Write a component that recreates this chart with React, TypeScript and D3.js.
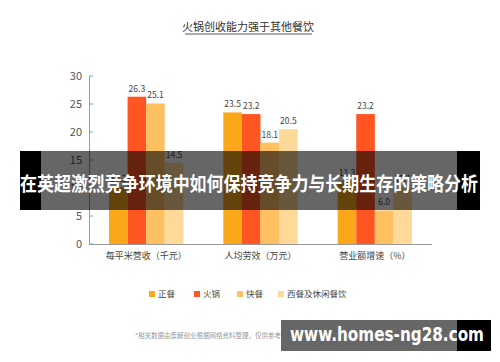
import React from "react";
import * as d3 from "d3";

const categories = ["每平米营收（千元）", "人均劳效（万元）", "营业额增速（%）"];
const seriesNames = ["正餐", "火锅", "快餐", "西餐及休闲餐饮"];
const zhengcan = [10.2, 23.5, 11.3];
const huoguo = [26.3, 23.2, 23.2];
const kuaican = [25.1, 18.1, 6.0];
const xican = [14.5, 20.5, 10.1];
const yTicks = [0, 5, 10, 15, 20, 25, 30];
const colors = ["#FBA71A", "#FF5522", "#FFC061", "#FFD99A"];

const seriesValues = [zhengcan, huoguo, kuaican, xican];

const W = 500, H = 362;
const FONT = "'Noto Sans CJK SC', 'Noto Sans', sans-serif";

export default function App() {
  const x0 = d3.scaleBand<string>().domain(categories).range([89, 432]).paddingInner(0.35).paddingOuter(0.175);
  const x1 = d3.scaleBand<string>().domain(seriesNames).range([0, x0.bandwidth()]).padding(0);
  const y = d3.scaleLinear().domain([0, 30]).range([244, 76]);

  return (
    <div style={{ position: "fixed", left: 0, top: 0, width: W, height: H, background: "#fff" }}>
      <svg width={W} height={H} style={{ display: "block", fontFamily: FONT }}>
        <rect x={0} y={0} width={W} height={H} fill="#fff" />
        {/* Title */}
        <text x={248} y={31} textAnchor="middle" fontSize={11} fill="#333">火锅创收能力强于其他餐饮</text>
        <line x1={185} x2={312} y1={34} y2={34} stroke="#aaa" strokeWidth={2} />

        {/* Y axis */}
        <line x1={89.5} x2={89.5} y1={y(30)} y2={y(0)} stroke="#999" strokeWidth={1} />
        {yTicks.map((t) => (
          <g key={t}>
            <line x1={89.5} x2={93} y1={y(t)} y2={y(t)} stroke="#999" />
            <text x={82} y={y(t)} dy="0.35em" textAnchor="end" fontSize={11} fill="#555">{t}</text>
          </g>
        ))}
        {/* X axis */}
        <line x1={89} x2={432} y1={y(0) + 0.5} y2={y(0) + 0.5} stroke="#999" />
        {categories.map((c) => (
          <text key={c} x={(x0(c) as number) + x0.bandwidth() / 2} y={259} textAnchor="middle" fontSize={9} fill="#444">{c}</text>
        ))}

        {/* Bars */}
        {categories.map((c, ci) => (
          <g key={c} transform={`translate(${x0(c)},0)`}>
            {seriesNames.map((s, si) => {
              const v = seriesValues[si][ci];
              const bx = x1(s) as number;
              return (
                <g key={s}>
                  <rect x={bx} y={y(v)} width={x1.bandwidth()} height={y(0) - y(v)} fill={colors[si]} />
                  <text x={bx + x1.bandwidth() / 2} y={y(v) - 5} textAnchor="middle" fontSize={8.5} fill="#444">{v.toFixed(1)}</text>
                </g>
              );
            })}
          </g>
        ))}

        {/* Legend */}
        {seriesNames.map((s, i) => {
          const lx = [149, 194, 237, 278][i];
          return (
            <g key={s}>
              <rect x={lx} y={291} width={6} height={6} fill={colors[i]} />
              <text x={lx + 9} y={297} fontSize={8.5} fill="#444">{s}</text>
            </g>
          );
        })}

        {/* Footnote */}
        <text x={135} y={338} fontSize={6.5} fill="#999">*相关数据由蛋解创业根据网络资料整理，仅供参考</text>

        {/* Banner overlay */}
        <rect x={20} y={151} width={21} height={59} fill="#000" />
        <rect x={457} y={151} width={23} height={59} fill="#000" />
        <rect x={41} y={151} width={416} height={59} fill="#000" fillOpacity={0.6} />
        <text x={249} y={186} textAnchor="middle" dominantBaseline="middle" fontSize={19.5} fontWeight="bold" fill="#fff" textLength={458} lengthAdjust="spacingAndGlyphs">在英超激烈竞争环境中如何保持竞争力与长期生存的策略分析</text>

        {/* Watermark */}
        <rect x={281} y={320} width={176} height={31} fill="#000" fillOpacity={0.6} />
        <rect x={457} y={320} width={34} height={31} fill="#000" />
        <text x={290} y={341} fontSize={19} fontWeight="bold" fill="#fff" fontFamily="'DejaVu Sans', sans-serif" textLength={194} lengthAdjust="spacingAndGlyphs">www.homes-ng28.com</text>
      </svg>
    </div>
  );
}
